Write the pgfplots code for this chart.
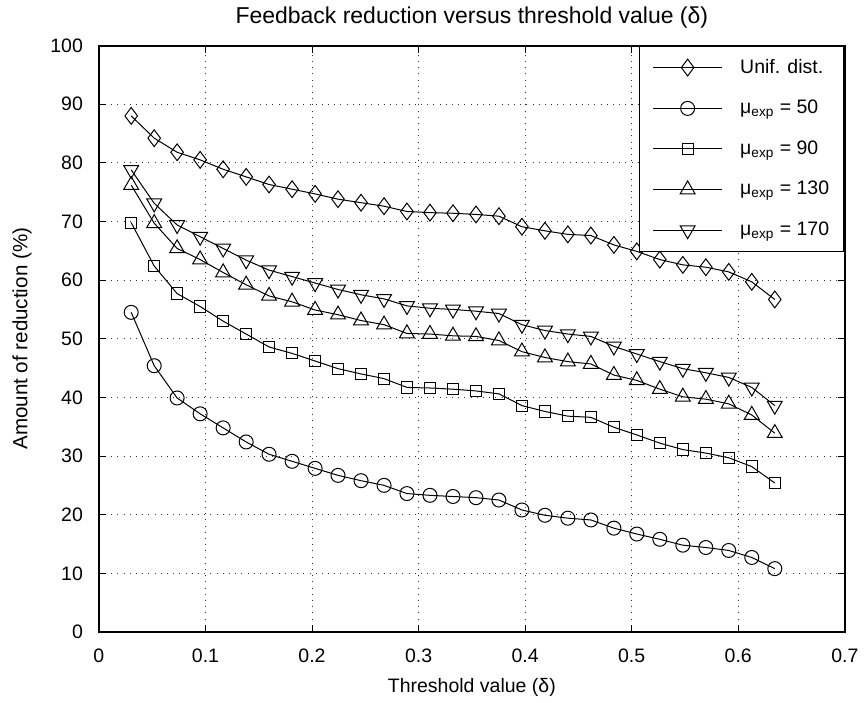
\documentclass[border=0pt]{standalone}
\usepackage{fontspec}
\setmainfont{Liberation Sans}
\usepackage{pgfplots}
\usepackage{pgfplotstable}
\pgfplotsset{compat=1.18}

% threshold, uniform, mu=50, mu=90, mu=130, mu=170
\pgfplotstableread{
x      unif  m50   m90   m130  m170
0.0303 88.0  54.5  69.8  76.2  78.8
0.0519 84.2  45.4  62.4  69.7  73.1
0.0734 81.8  39.9  57.7  65.4  69.4
0.0950 80.5  37.2  55.5  63.5  67.4
0.1166 78.9  34.8  53.0  61.3  65.4
0.1382 77.6  32.4  50.8  59.2  63.4
0.1597 76.3  30.3  48.6  57.3  61.7
0.1813 75.5  29.1  47.5  56.3  60.6
0.2029 74.7  27.9  46.2  54.9  59.5
0.2244 73.8  26.7  44.9  54.1  58.4
0.2460 73.2  25.8  44.0  53.1  57.5
0.2676 72.6  25.0  43.2  52.4  56.8
0.2891 71.7  23.6  41.7  50.9  55.6
0.3107 71.5  23.3  41.6  50.8  55.2
0.3323 71.4  23.1  41.4  50.5  55.0
0.3539 71.2  22.9  41.1  50.4  54.7
0.3754 70.9  22.5  40.6  49.7  54.3
0.3970 69.1  20.8  38.6  47.8  52.4
0.4186 68.4  19.9  37.6  46.8  51.4
0.4401 67.8  19.4  36.8  46.1  50.8
0.4617 67.6  19.1  36.6  45.7  50.4
0.4833 66.0  17.7  34.9  43.8  48.7
0.5048 64.9  16.7  33.6  42.9  47.4
0.5264 63.5  15.8  32.2  41.4  46.1
0.5480 62.6  14.8  31.1  40.1  44.9
0.5696 62.2  14.4  30.5  39.7  44.2
0.5911 61.4  13.9  29.7  38.9  43.4
0.6127 59.7  12.7  28.2  37.0  41.7
0.6343 56.7  10.8  25.4  33.9  38.6
}\reduction

\begin{document}
\begin{tikzpicture}[font=\fontsize{9.75}{11.5}\selectfont]
\begin{axis}[
    scale only axis,
    width=373.3pt,
    height=293.5pt,
    clip=false,
    xmin=0, xmax=0.7,
    ymin=0, ymax=100,
    xtick={0,0.1,...,0.7},
    ytick={0,10,...,100},
    /pgf/number format/assume math mode=true,
    tick align=inside,
    major tick length=3.5pt,
    axis line style={line width=1pt},
    tick style={line width=0.4pt, black},
    grid=major,
    grid style={black!80, line width=0.45pt, dash pattern=on 0.5pt off 2.6pt},
    every axis title shift=0pt,
    title={Feedback reduction versus threshold value (δ)},
    title style={at={(axis description cs:0.5,1.048)}, anchor=center,
        font=\fontsize{11.5}{13}\selectfont},
    xlabel={Threshold value (δ)},
    xlabel style={at={(axis description cs:0.5,-0.094)}, anchor=center},
    ylabel={Amount of reduction (\%)},
    ylabel style={at={(axis description cs:-0.103,0.5)}, anchor=center,
        font=\fontsize{10.3}{12}\selectfont},
    xticklabel style={yshift=-5pt},
    yticklabel style={xshift=-4.5pt},
    legend style={at={(axis description cs:1,1)}, anchor=north east,
        draw=black, line width=0.7pt, fill=white,
        inner xsep=3pt, inner ysep=4.4pt, row sep=8pt,
        font=\fontsize{9.75}{11.5}\selectfont},
    legend cell align=left,
    legend image code/.code={%
        \path (0pt,0pt) (44.8pt,0pt);
        \draw[mark repeat=2,mark phase=2] plot coordinates {(3.5pt,0pt)(20.75pt,0pt)(38pt,0pt)};},
    every axis plot/.append style={black, line width=0.5pt, mark options={solid, line width=0.5pt}},
]
\addplot[mark=diamond, mark size=4.2pt] table[x=x, y=unif] {\reduction};
\addlegendentry{\makebox[47pt][l]{Unif. dist.}}
\addplot[mark=o, mark size=3.5pt] table[x=x, y=m50] {\reduction};
\addlegendentry{\makebox[47pt][l]{μ\textsubscript{exp} = 50}}
\addplot[mark=square, mark size=2.8pt] table[x=x, y=m90] {\reduction};
\addlegendentry{\makebox[47pt][l]{μ\textsubscript{exp} = 90}}
\addplot[mark=triangle, mark size=4.3pt] table[x=x, y=m130] {\reduction};
\addlegendentry{\makebox[47pt][l]{μ\textsubscript{exp} = 130}}
\addplot[mark=triangle, mark size=4.3pt, mark options={rotate=180}] table[x=x, y=m170] {\reduction};
\addlegendentry{\makebox[47pt][l]{μ\textsubscript{exp} = 170}}
\path (axis description cs:-0.1326,-0.1153) (axis description cs:1.0258,1.0772);
\end{axis}
\end{tikzpicture}
\end{document}
